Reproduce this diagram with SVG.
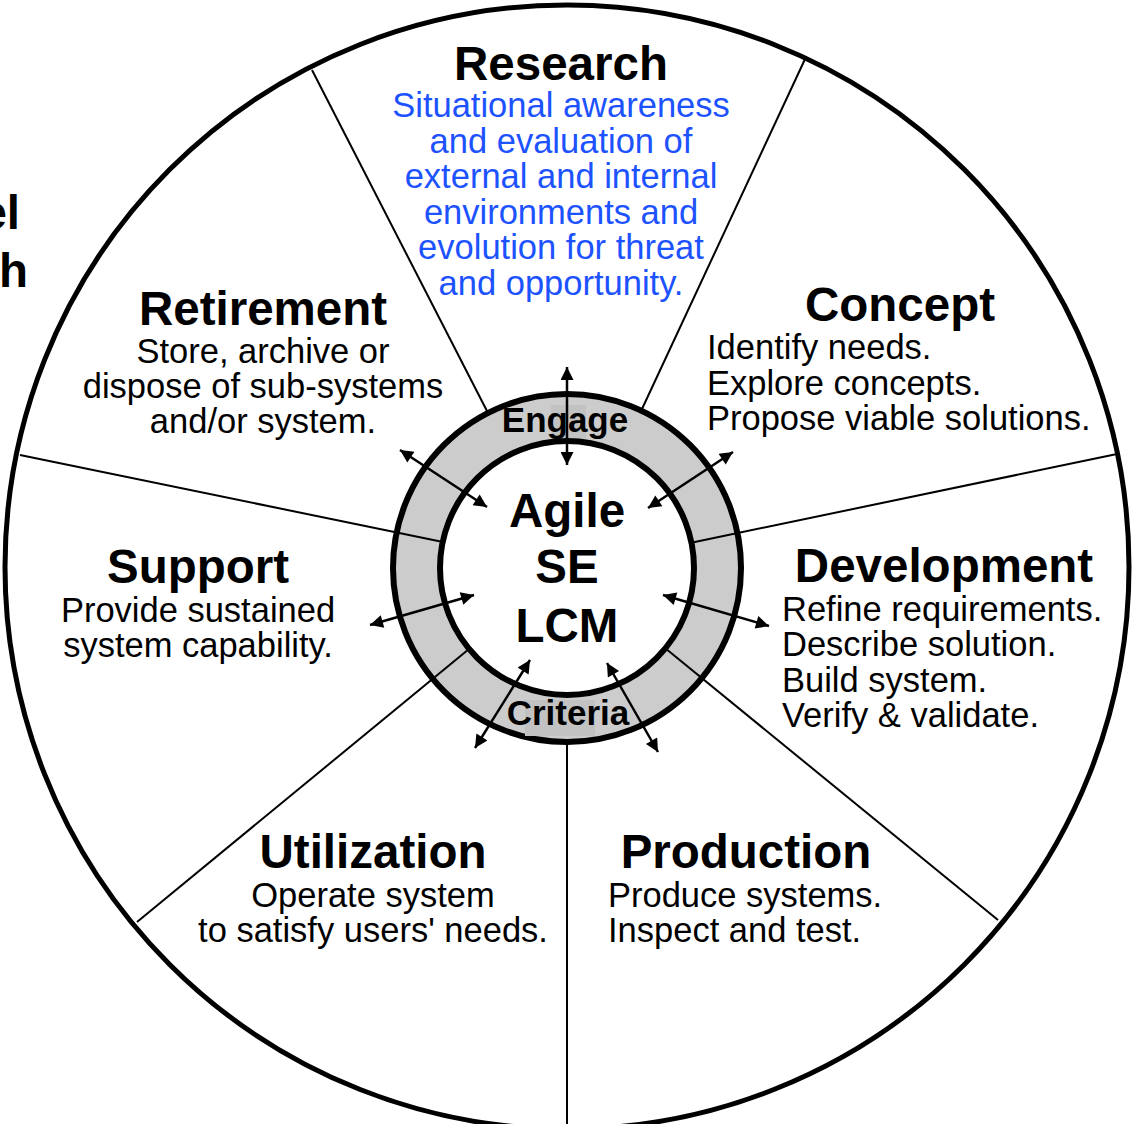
<svg xmlns="http://www.w3.org/2000/svg" width="1133" height="1124" viewBox="0 0 1133 1124">
<style>
.t{font-family:"Liberation Sans",Arial,sans-serif;font-weight:bold;font-size:47.5px;fill:#000}
.d{font-family:"Liberation Sans",Arial,sans-serif;font-size:34.5px;fill:#000}
.b{font-family:"Liberation Sans",Arial,sans-serif;font-size:34.5px;fill:#1d52ff}
.r{font-family:"Liberation Sans",Arial,sans-serif;font-weight:bold;font-size:35px;fill:#000}
.c{text-anchor:middle}
.sp{stroke:#000;stroke-width:2;fill:none}
.ar{stroke:#000;stroke-width:2.5;fill:none;marker-start:url(#ah);marker-end:url(#ah)}
</style>
<defs>
<marker id="ah" viewBox="0 0 10 10" refX="10" refY="5" markerWidth="17" markerHeight="13" markerUnits="userSpaceOnUse" orient="auto-start-reverse">
<path d="M0,0 L10,5 L0,10 z" fill="#000"/>
</marker>
</defs>
<rect width="1133" height="1124" fill="#fff"/>
<g id="outer">
<circle cx="567" cy="567" r="562" fill="#fff" stroke="#000" stroke-width="5"/>
</g>
<g id="ring">
<circle cx="567" cy="568" r="174" fill="#ccc" stroke="#000" stroke-width="6"/>
<rect x="551" y="405" width="35" height="38" fill="#c2c2c2"/>
<rect x="525" y="700" width="70" height="36" fill="#c2c2c2"/>
</g>
<g id="connectors">
<line class="sp" x1="312" y1="70" x2="487" y2="411"/>
<line class="sp" x1="806" y1="57" x2="642" y2="409"/>
<line class="sp" x1="1117" y1="454" x2="690" y2="543"/>
<line class="sp" x1="998" y1="920" x2="665" y2="648"/>
<line class="sp" x1="567" y1="1124" x2="567" y2="742"/>
<line class="sp" x1="137" y1="922" x2="469" y2="649"/>
<line class="sp" x1="20" y1="455" x2="443" y2="542"/>
</g>
<g id="center">
<circle cx="567" cy="568" r="127" fill="#fff" stroke="#000" stroke-width="6"/>
<text class="t c" x="567" y="527">Agile</text>
<text class="t c" x="567" y="583">SE</text>
<text class="t c" x="567" y="642">LCM</text>
</g>
<g id="engage"><text class="r c" x="565" y="432">Engage</text></g>
<g id="criteria"><text class="r c" x="568" y="725">Criteria</text></g>
<g id="arrows">
<line class="ar" x1="567" y1="367" x2="567" y2="465"/>
<line class="ar" x1="400" y1="450" x2="487" y2="507"/>
<line class="ar" x1="733" y1="452" x2="648" y2="508"/>
<line class="ar" x1="370" y1="625" x2="474" y2="595"/>
<line class="ar" x1="663" y1="595" x2="769" y2="626"/>
<line class="ar" x1="530" y1="660" x2="475" y2="748"/>
<line class="ar" x1="607" y1="663" x2="658" y2="752"/>
</g>
<g id="research">
<text class="t c" x="561" y="80">Research</text>
<text class="b c" x="561" y="117">Situational awareness</text>
<text class="b c" x="561" y="152.5">and evaluation of</text>
<text class="b c" x="561" y="188">external and internal</text>
<text class="b c" x="561" y="223.5">environments and</text>
<text class="b c" x="561" y="259">evolution for threat</text>
<text class="b c" x="561" y="294.5">and opportunity.</text>
</g>
<g id="concept">
<text class="t c" x="900" y="321">Concept</text>
<text class="d" x="707" y="359">Identify needs.</text>
<text class="d" x="707" y="394.5">Explore concepts.</text>
<text class="d" x="707" y="430">Propose viable solutions.</text>
</g>
<g id="retirement">
<text class="t c" x="263" y="325">Retirement</text>
<text class="d c" x="263" y="363">Store, archive or</text>
<text class="d c" x="263" y="398">dispose of sub-systems</text>
<text class="d c" x="263" y="433">and/or system.</text>
</g>
<g id="support">
<text class="t c" x="198" y="583">Support</text>
<text class="d c" x="198" y="622">Provide sustained</text>
<text class="d c" x="198" y="657">system capability.</text>
</g>
<g id="development">
<text class="t c" x="944" y="582">Development</text>
<text class="d" x="782" y="621">Refine requirements.</text>
<text class="d" x="782" y="656">Describe solution.</text>
<text class="d" x="782" y="692">Build system.</text>
<text class="d" x="782" y="727">Verify &amp; validate.</text>
</g>
<g id="utilization">
<text class="t c" x="373" y="868">Utilization</text>
<text class="d c" x="373" y="907">Operate system</text>
<text class="d c" x="373" y="942">to satisfy users' needs.</text>
</g>
<g id="production">
<text class="t c" x="746" y="868">Production</text>
<text class="d" x="608" y="907">Produce systems.</text>
<text class="d" x="608" y="942">Inspect and test.</text>
</g>
<g id="edge-text">
<text class="t" x="20" y="229" text-anchor="end">el</text>
<text class="t" x="28" y="287" text-anchor="end">h</text>
</g>
</svg>
